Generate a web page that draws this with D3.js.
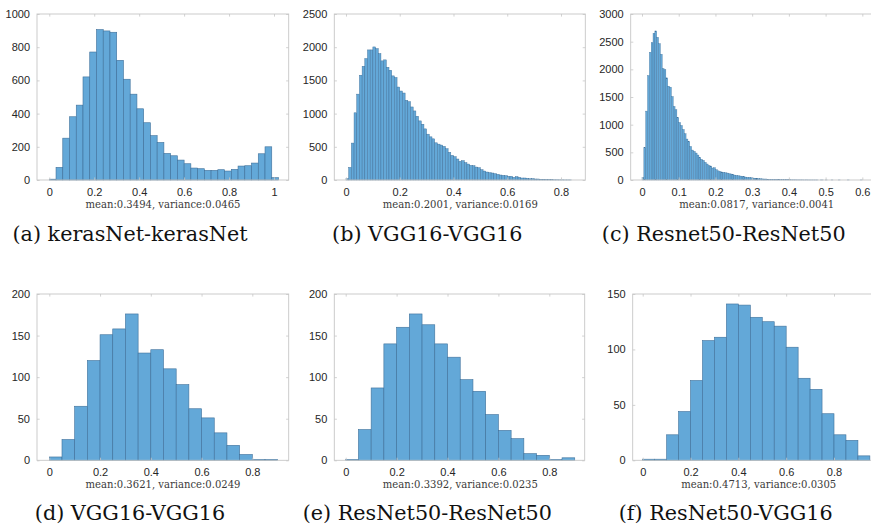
<!DOCTYPE html>
<html><head><meta charset="utf-8">
<script src="https://cdn.jsdelivr.net/npm/d3@7"></script>
<style>body{margin:0;background:#fff}svg{display:block}
.serif{font-family:"DejaVu Serif","Liberation Serif",serif}
.sans{font-family:"Liberation Sans",Arial,Helvetica,sans-serif}
</style>
</head><body>
<svg id="chart" width="871" height="527"></svg>
<script>
// ---- data (counts per histogram bin) ----
const countsA = [5,76,252,381,451,621,771,906,898,890,721,607,517,429,345,267,226,160,146,120,98,72,68,58,58,62,54,64,84,86,102,158,200,14];
const countsB = [20,190,556,1012,1293,1578,1713,1829,1959,1959,2004,1979,1904,1794,1809,1698,1653,1568,1543,1400,
  1340,1310,1200,1180,1100,1040,960,890,840,770,690,650,620,560,540,526,506,471,416,371,
  351,316,281,291,261,240,220,215,195,185,155,135,120,110,105,95,85,75,70,65,
  55,55,40,50,40,30,30,25,20,20,15,15,10,10,5,5,4,3,3,2,2,1,1,1];
const countsC = [42,583,1245,1888,2309,2483,2652,2694,2580,2465,2273,2014,1996,1846,1696,1678,1509,1329,1269,1130,
  1040,986,914,836,740,697,607,541,517,487,451,409,373,355,319,289,259,253,217,222,
  186,165,150,145,140,132,126,114,108,102,90,84,78,72,66,60,54,48,48,42,
  36,32,30,26,24,20,18,18,14,12,12,10,8,8,7,6,6,5,5,4,
  4,3,3,3,2,2,2,2,1,2,1,1,1,1,1,1,0,1,1,0,
  1,0,0,1,0,0,0,1,0,0,0,0,1,0,0,0,0,0,0,1];
const countsD = [4,25,65,120,151,158,176,129,133,110,91,62,51,33,18,7,1,1];
const countsE = [1,37,87,140,160,176,163,140,124,97,83,55,36,26,8,6,1,3];
const countsF = [1,1,23,44,72,108,111,141,140,129,125,121,102,74,64,42,23,18,4];

const binWidths = [0.03, 0.01, 0.005, 0.05, 0.05, 0.05];
const yMax = [1000, 2500, 3000, 200, 200, 150];
const yStep = [200, 500, 500, 50, 50, 50];
const xTicksA = [0,0.2,0.4,0.6,0.8,1];
const xTicksB = [0,0.2,0.4,0.6,0.8];
const xTicksC = [0,0.1,0.2,0.3,0.4,0.5,0.6];
const xTicksD = [0,0.2,0.4,0.6,0.8];
const stats = ["mean:0.3494, variance:0.0465","mean:0.2001, variance:0.0169","mean:0.0817, variance:0.0041",
               "mean:0.3621, variance:0.0249","mean:0.3392, variance:0.0235","mean:0.4713, variance:0.0305"];
const captions = ["(a) kerasNet-kerasNet","(b) VGG16-VGG16","(c) Resnet50-ResNet50",
                  "(d) VGG16-VGG16","(e) ResNet50-ResNet50","(f) ResNet50-VGG16"];
const xDomains = [[-0.0547,1.0654],[-0.0435,0.8904],[-0.0308,0.6555],[-0.0485,0.9434],[-0.0448,0.9391],[-0.0418,1.012]];

// ---- layout ----
const boxes = [
  {left:37, top:14, w:251.7, h:166},
  {left:334.3, top:14, w:251, h:166},
  {left:630.7, top:14, w:252, h:166},
  {left:37, top:294, w:251.7, h:166.3},
  {left:334.3, top:294, w:250.4, h:166.3},
  {left:632.7, top:294, w:252, h:166.3}
];
const allCounts = [countsA,countsB,countsC,countsD,countsE,countsF];
const allXTicks = [xTicksA,xTicksB,xTicksC,xTicksD,xTicksD,xTicksD];

const svg = d3.select("#chart");
const axisColor = "#c6c6c6", labelColor = "#262626";
const fillColor = "#63a8d8", edgeColor = "#3f709a";

const capNodes = [], statNodes = [];

boxes.forEach((b, p) => {
  const x = d3.scaleLinear().domain(xDomains[p]).range([b.left, b.left + b.w]);
  const y = d3.scaleLinear().domain([0, yMax[p]]).range([b.top + b.h, b.top]);
  const g = svg.append("g");
  const bw = binWidths[p];
  const bins = allCounts[p].map((c, i) => ({x0: i*bw, x1: (i+1)*bw, c}));

  g.append("g").selectAll("rect").data(bins).join("rect")
    .attr("x", d => x(d.x0)).attr("width", d => x(d.x1) - x(d.x0))
    .attr("y", d => y(d.c)).attr("height", d => y(0) - y(d.c))
    .attr("fill", fillColor).attr("stroke", edgeColor)
    .attr("stroke-width", p === 2 ? 0.35 : (p === 1 ? 0.45 : 0.6));

  const yt = d3.range(0, yMax[p] + 1e-9, yStep[p]);
  const tk = 2.6;
  const fmtX = d => String(+d.toFixed(2));
  const axB = g.append("g").attr("transform", `translate(0,${b.top + b.h})`)
    .call(d3.axisBottom(x).tickValues(allXTicks[p]).tickSize(-tk).tickPadding(8).tickFormat(fmtX));
  const axT = g.append("g").attr("transform", `translate(0,${b.top})`)
    .call(d3.axisTop(x).tickValues(allXTicks[p]).tickSize(-tk).tickFormat(""));
  const axL = g.append("g").attr("transform", `translate(${b.left},0)`)
    .call(d3.axisLeft(y).tickValues(yt).tickSize(-tk).tickPadding(7).tickFormat(d3.format("d")));
  const axR = g.append("g").attr("transform", `translate(${b.left + b.w},0)`)
    .call(d3.axisRight(y).tickValues(yt).tickSize(-tk).tickFormat(""));
  [axB, axT, axL, axR].forEach(a => {
    a.select(".domain").remove();
    a.attr("font-family", null).attr("font-size", null);
    a.selectAll("line").attr("stroke", axisColor).attr("stroke-width", 0.8);
    a.selectAll("text").attr("fill", labelColor).attr("class", "sans").attr("font-size", 11);
  });
  g.append("rect").attr("x", b.left).attr("y", b.top).attr("width", b.w).attr("height", b.h)
    .attr("fill", "none").attr("stroke", axisColor).attr("stroke-width", 0.9);

  const st = g.append("text").attr("class", "serif").attr("x", b.left + 126).attr("y", b.top + b.h + 27.6)
    .attr("text-anchor", "middle").attr("fill", "#3a3a3a").attr("font-size", 10.5)
    .text(stats[p]);
  statNodes.push(st);
  const cp = g.append("text").attr("class", "serif").attr("x", b.left + 93).attr("y", p < 3 ? 241 : 520)
    .attr("text-anchor", "middle").attr("fill", "#111").attr("font-size", 19.5)
    .text(captions[p]);
  capNodes.push(cp);
});

// fit the serif text to the widths of the Computer Modern face of the original
const kCap = 235 / capNodes[0].node().getComputedTextLength();
capNodes.forEach(t => t.attr("textLength", t.node().getComputedTextLength() * kCap).attr("lengthAdjust", "spacingAndGlyphs"));
const kStat = 155 / statNodes[0].node().getComputedTextLength();
statNodes.forEach(t => t.attr("textLength", t.node().getComputedTextLength() * kStat).attr("lengthAdjust", "spacingAndGlyphs"));
</script>
</body></html>
